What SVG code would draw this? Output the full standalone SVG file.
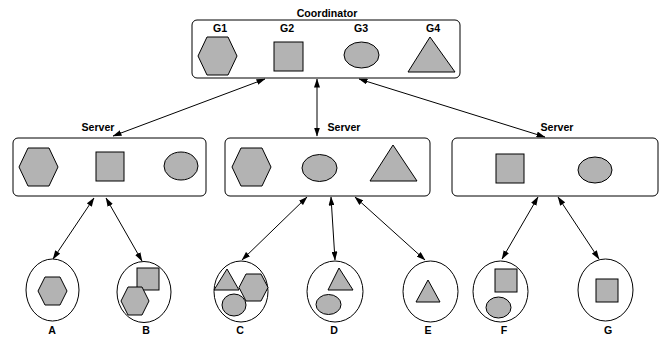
<svg xmlns="http://www.w3.org/2000/svg" width="661" height="337" viewBox="0 0 661 337">
<style>
.box{fill:#fff;stroke:#000;stroke-width:1}
.sh{fill:#b3b3b3;stroke:#000;stroke-width:1;stroke-linejoin:miter}
.cl{fill:#fff;stroke:#000;stroke-width:1}
.t{font-family:"Liberation Sans",Arial,sans-serif;font-weight:bold;font-size:10.6px;text-anchor:middle;fill:#000}
.c{stroke:#000;stroke-width:1;fill:none;marker-start:url(#ah);marker-end:url(#ah)}
</style>
<defs>
<marker id="ah" markerUnits="userSpaceOnUse" markerWidth="9" markerHeight="6" refX="8.5" refY="3" orient="auto-start-reverse">
<path d="M0,0 L9,3 L0,6 z" fill="#000"/>
</marker>
</defs>
<rect width="661" height="337" fill="#fff"/>
<g id="coordinator">
<text class="t" x="327" y="17">Coordinator</text>
<rect class="box" x="192" y="20" width="268" height="58" rx="5"/>
<text class="t" x="220" y="32">G1</text>
<text class="t" x="287" y="32">G2</text>
<text class="t" x="361" y="32">G3</text>
<text class="t" x="433" y="32">G4</text>
<polygon class="sh" points="198,56 207,37 228,37 237,56 228,75 207,75"/>
<rect class="sh" x="274" y="42" width="29" height="29"/>
<ellipse class="sh" cx="361.5" cy="55" rx="17.5" ry="13"/>
<polygon class="sh" points="430,37 455,72 408,72"/>
</g>
<g id="server1">
<text class="t" x="98" y="131">Server</text>
<rect class="box" x="13" y="138" width="193" height="58" rx="5"/>
<polygon class="sh" points="19,167 28,148 49,148 58,167 49,186 28,186"/>
<rect class="sh" x="96" y="152" width="28" height="29"/>
<ellipse class="sh" cx="181" cy="166" rx="17" ry="14"/>
</g>
<g id="server2">
<text class="t" x="344" y="131">Server</text>
<rect class="box" x="225" y="138" width="205" height="58" rx="5"/>
<polygon class="sh" points="232,167 241,148 262,148 271,167 262,186 241,186"/>
<ellipse class="sh" cx="319.5" cy="168" rx="17.5" ry="13.5"/>
<polygon class="sh" points="393,145 417,181 370,181"/>
</g>
<g id="server3">
<text class="t" x="557" y="131">Server</text>
<rect class="box" x="452" y="138" width="206" height="58" rx="5"/>
<rect class="sh" x="496" y="154" width="28" height="29"/>
<ellipse class="sh" cx="595" cy="170" rx="17" ry="13"/>
</g>
<g id="connectors">
<line class="c" x1="265" y1="79" x2="113" y2="136"/>
<line class="c" x1="317" y1="79" x2="317" y2="136"/>
<line class="c" x1="359" y1="79" x2="545" y2="137"/>
<line class="c" x1="94" y1="198" x2="53" y2="259"/>
<line class="c" x1="106" y1="198" x2="142" y2="261"/>
<line class="c" x1="307" y1="197" x2="242" y2="260"/>
<line class="c" x1="331" y1="197" x2="335" y2="260"/>
<line class="c" x1="355" y1="197" x2="425" y2="260"/>
<line class="c" x1="538" y1="197" x2="502" y2="259"/>
<line class="c" x1="558" y1="197" x2="599" y2="259"/>
</g>
<g id="clientA">
<ellipse class="cl" cx="52.5" cy="290" rx="26.5" ry="31"/>
<polygon class="sh" points="38,291 45,277 60,277 67,291 60,305 45,305"/>
<text class="t" x="52" y="334">A</text>
</g>
<g id="clientB">
<ellipse class="cl" cx="144" cy="292" rx="27" ry="30.5"/>
<rect class="sh" x="137" y="268" width="22" height="22"/>
<polygon class="sh" points="121,301 128,287 142,287 149,301 142,315 128,315"/>
<text class="t" x="146" y="334">B</text>
</g>
<g id="clientC">
<ellipse class="cl" cx="241" cy="291.5" rx="27" ry="30.5"/>
<polygon class="sh" points="227,269 239,290 214,290"/>
<polygon class="sh" points="239,287.5 246,274 261,274 268,287.5 261,301 246,301"/>
<ellipse class="sh" cx="234" cy="305" rx="12" ry="11"/>
<text class="t" x="240" y="334">C</text>
</g>
<g id="clientD">
<ellipse class="cl" cx="335" cy="291.5" rx="28" ry="30.5"/>
<polygon class="sh" points="339,268 353,290 328,290"/>
<ellipse class="sh" cx="328.5" cy="304.5" rx="12.5" ry="10"/>
<text class="t" x="334" y="334">D</text>
</g>
<g id="clientE">
<ellipse class="cl" cx="430.5" cy="291.5" rx="27.5" ry="30.5"/>
<polygon class="sh" points="428,280 440,302 416,302"/>
<text class="t" x="428" y="334">E</text>
</g>
<g id="clientF">
<ellipse class="cl" cx="500.5" cy="291.5" rx="27.5" ry="30.5"/>
<rect class="sh" x="495" y="269" width="22" height="23"/>
<ellipse class="sh" cx="498.5" cy="307.5" rx="12.5" ry="10.5"/>
<text class="t" x="504" y="334">F</text>
</g>
<g id="clientG">
<ellipse class="cl" cx="605.5" cy="290" rx="27.5" ry="31"/>
<rect class="sh" x="596" y="279" width="22" height="23"/>
<text class="t" x="608" y="334">G</text>
</g>
</svg>
